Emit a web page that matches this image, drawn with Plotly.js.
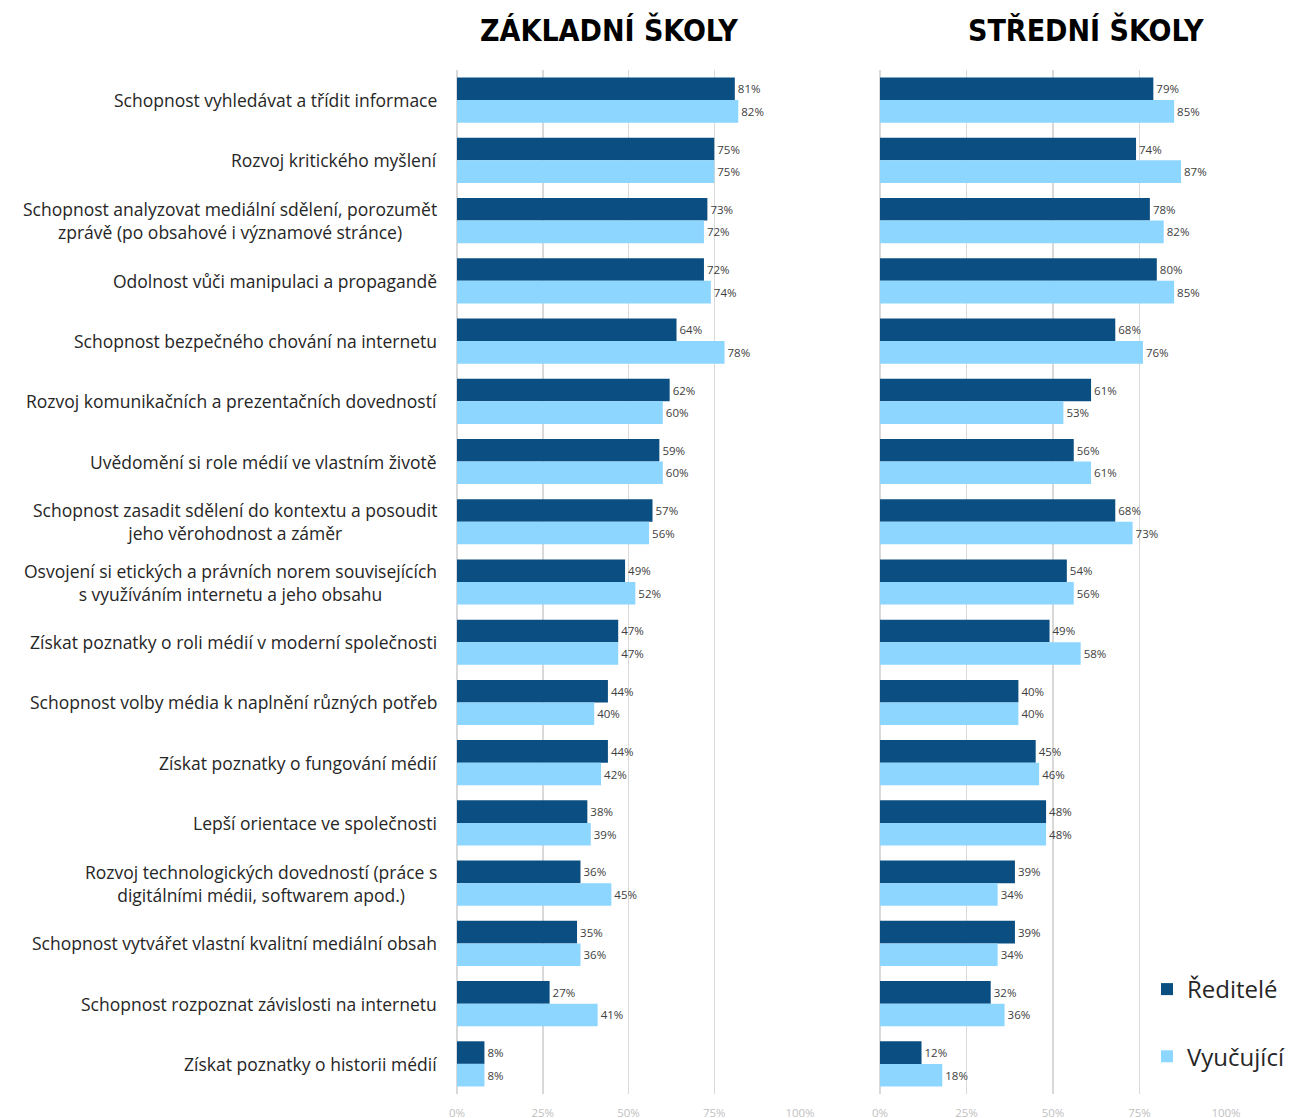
<!DOCTYPE html>
<html>
<head>
<meta charset="utf-8">
<script src="https://cdn.plot.ly/plotly-3.0.1.min.js"></script>
<style>html,body{margin:0;padding:0;background:#fff;}#chart{width:1296px;height:1118px;}</style>
</head>
<body>
<div id="chart"></div>
<script>
const categories = [
  "Schopnost vyhledávat a třídit informace",
  "Rozvoj kritického myšlení",
  "Schopnost analyzovat mediální sdělení, porozumět<br>zprávě (po obsahové i významové stránce)",
  "Odolnost vůči manipulaci a propagandě",
  "Schopnost bezpečného chování na internetu",
  "Rozvoj komunikačních a prezentačních dovedností",
  "Uvědomění si role médií ve vlastním životě",
  "Schopnost zasadit sdělení do kontextu a posoudit<br>jeho věrohodnost a záměr",
  "Osvojení si etických a právních norem souvisejících<br>s využíváním internetu a jeho obsahu",
  "Získat poznatky o roli médií v moderní společnosti",
  "Schopnost volby média k naplnění různých potřeb",
  "Získat poznatky o fungování médií",
  "Lepší orientace ve společnosti",
  "Rozvoj technologických dovedností (práce s<br>digitálními médii, softwarem apod.)",
  "Schopnost vytvářet vlastní kvalitní mediální obsah",
  "Schopnost rozpoznat závislosti na internetu",
  "Získat poznatky o historii médií"
];
const zsReditele  = [81, 75, 73, 72, 64, 62, 59, 57, 49, 47, 44, 44, 38, 36, 35, 27, 8];
const zsVyucujici = [82, 75, 72, 74, 78, 60, 60, 56, 52, 47, 40, 42, 39, 45, 36, 41, 8];
const ssReditele  = [79, 74, 78, 80, 68, 61, 56, 68, 54, 49, 40, 45, 48, 39, 39, 32, 12];
const ssVyucujici = [85, 87, 82, 85, 76, 53, 61, 73, 56, 58, 40, 46, 48, 34, 34, 36, 18];
const panelTitles = ["ZÁKLADNÍ ŠKOLY", "STŘEDNÍ ŠKOLY"];
const seriesNames = ["Ředitelé", "Vyučující"];
const tickVals = [0, 25, 50, 75, 100];
const tickLabels = ["0%", "25%", "50%", "75%", "100%"];

const dark = "#0B4F82", light = "#8DD6FF";
const W = 1296;
const labelFont = {family: "'Open Sans', 'Liberation Sans', sans-serif", size: 17.5, color: "#262626"};
const valFont = {family: "'Open Sans', 'Liberation Sans', sans-serif", size: 11.5, color: "#404040"};

function tr(x, name, color, xa, ya, show, grp) {
  return {
    type: "bar", orientation: "h", x: x, y: categories, name: name,
    xaxis: xa, yaxis: ya, showlegend: show, legendgroup: grp,
    marker: {color: color, line: {width: 0}},
    text: x.map(v => v + "%"), textposition: "outside", textfont: valFont,
    cliponaxis: false, hoverinfo: "skip"
  };
}
const data = [
  tr(zsReditele, seriesNames[0], dark, "x", "y", true, "a"),
  tr(zsVyucujici, seriesNames[1], light, "x", "y", true, "b"),
  tr(ssReditele, seriesNames[0], dark, "x2", "y2", false, "a"),
  tr(ssVyucujici, seriesNames[1], light, "x2", "y2", false, "b")
];

const xcommon = {
  range: [0, 100], tickmode: "array", tickvals: tickVals, ticktext: tickLabels, showgrid: true,
  gridcolor: "#d9d9d9", gridwidth: 1.5, zeroline: true, zerolinecolor: "#d9d9d9", zerolinewidth: 1.5,
  showline: false, ticks: "", fixedrange: true,
  tickfont: {family: "'Open Sans', 'Liberation Sans', sans-serif", size: 11.5, color: "#bfbfbf"}, ticklabelstandoff: 10
};
const ycommon = {type: "category", autorange: "reversed", showticklabels: false, showgrid: false,
  zeroline: false, showline: false, ticks: "", fixedrange: true};

const annotations = categories.map(c => ({
  xref: "paper", yref: "y", x: 439 / W, y: c, xanchor: "right", yanchor: "middle",
  text: c, align: "center", showarrow: false, font: labelFont
}));
const titleFont = {family: "'DejaVu Sans Condensed', 'Liberation Sans', sans-serif", size: 30, color: "#000", weight: 700};
annotations.push({xref: "paper", yref: "paper", x: 609 / W, y: 1, yshift: 40, xanchor: "center", yanchor: "middle",
  text: "<b>" + panelTitles[0] + "</b>", showarrow: false, font: titleFont});
annotations.push({xref: "paper", yref: "paper", x: 1086 / W, y: 1, yshift: 40, xanchor: "center", yanchor: "middle",
  text: "<b>" + panelTitles[1] + "</b>", showarrow: false, font: titleFont});

const layout = {
  width: 1296, height: 1118,
  margin: {l: 0, r: 0, t: 70, b: 24, pad: 0},
  paper_bgcolor: "#fff", plot_bgcolor: "rgba(0,0,0,0)",
  barmode: "group", bargap: 0.25, bargroupgap: 0,
  xaxis: Object.assign({}, xcommon, {domain: [457 / W, 800 / W], anchor: "y"}),
  xaxis2: Object.assign({}, xcommon, {domain: [880 / W, 1226 / W], anchor: "y2"}),
  yaxis: Object.assign({}, ycommon, {anchor: "x"}),
  yaxis2: Object.assign({}, ycommon, {anchor: "x2", matches: "y"}),
  showlegend: true,
  legend: {x: 1147 / W, y: 1 - (967 - 70) / 1024, xanchor: "left", yanchor: "top",
    bgcolor: "#fff", borderwidth: 0, tracegroupgap: 33, traceorder: "grouped",
    font: {family: "'Open Sans', sans-serif", size: 24, color: "#262626"}},
  annotations: annotations
};
Plotly.newPlot("chart", data, layout, {displayModeBar: false, staticPlot: true});
</script>
</body>
</html>
